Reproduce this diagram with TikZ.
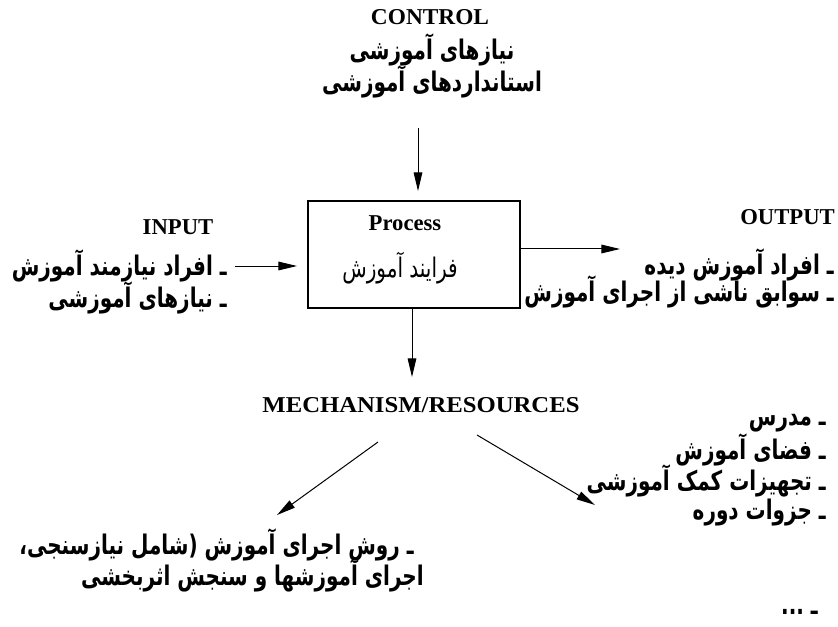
\documentclass[tikz,border=0pt]{standalone}
\usepackage{fontspec}
\usepackage{graphicx}
\setmainfont{Liberation Serif}
\newfontfamily\fa[Script=Arabic]{DejaVu Sans}
\TeXXeTstate=1
\usetikzlibrary{arrows.meta}
\tikzset{
  lat/.style={font=\fontsize{17}{20}\selectfont\bfseries, inner sep=0pt},
  per/.style={font=\fontsize{15}{18}\fa\bfseries, inner sep=0pt},
  perm/.style={font=\fontsize{15}{18}\fa, inner sep=0pt},
  arr/.style={line width=0.75pt, -{Triangle[length=14pt,width=6.5pt]}},
  procbox/.style={draw, line width=1.1pt, minimum width=159pt, minimum height=80pt, inner sep=0pt}
}
\newcommand{\RL}[1]{\scalebox{1}[1.35]{\beginR #1\endR}}
\begin{document}
\begin{tikzpicture}[x=0.75pt,y=-0.75pt]
\useasboundingbox (0,0) rectangle (838,627);
% control
\node[lat] (ctl) at (430,17) {\scalebox{1.03}[1]{CONTROL}};
\node[per] (cn1) at (432,50) {\RL{نیازهای آموزشی}};
\node[per] (cn2) at (432,82) {\RL{استانداردهای آموزشی}};
\coordinate (ctop) at (418,128);
\coordinate (ctip) at (418,191);
\draw[arr] (ctop) -- (ctip);
% process
\node[procbox] (proc) at (414,254.5) {};
\node[lat] (ptxt) at (405,223) {Process};
\node[perm] (pfa) at (400,268) {\RL{فرایند آموزش}};
% input
\node[lat] (inl) at (178,227) {INPUT};
\node[per, anchor=east] (in1) at (227,266) {\RL{ـ افراد نیازمند آموزش}};
\node[per, anchor=east] (in2) at (227,298) {\RL{ـ نیازهای آموزشی}};
\coordinate (ina) at (235,266);
\coordinate (inb) at (297,266);
\draw[arr] (ina) -- (inb);
% output
\node[lat, anchor=east] (outl) at (835,217) {OUTPUT};
\node[per, anchor=east] (out1) at (834,265) {\RL{ـ افراد آموزش دیده}};
\node[per, anchor=east] (out2) at (834,292) {\RL{ـ سوابق ناشی از اجرای آموزش}};
\coordinate (outa) at (520,249);
\coordinate (outb) at (620,249);
\draw[arr] (outa) -- (outb);
% mechanism
\coordinate (ma) at (412,308);
\coordinate (mb) at (412,377);
\draw[arr] (ma) -- (mb);
\node[lat] (mech) at (421,405) {\scalebox{1.09}[1]{MECHANISM/RESOURCES}};
\coordinate (la) at (378,442);
\coordinate (lb) at (277,515);
\draw[arr] (la) -- (lb);
\coordinate (ra) at (477,435);
\coordinate (rb) at (595,505);
\draw[arr] (ra) -- (rb);
\node[per, anchor=east] (l1) at (414,545) {\RL{ـ روش اجرای آموزش (شامل نیازسنجی،}};
\node[per, anchor=east] (l2) at (424,576) {\RL{اجرای آموزشها و سنجش اثربخشی}};
\node[per, anchor=east] (r1) at (826,423) {\RL{ـ مدرس}};
\node[per, anchor=east] (r2) at (826,450) {\RL{ـ فضای آموزش}};
\node[per, anchor=east] (r3) at (826,481) {\RL{ـ تجهیزات کمک آموزشی}};
\node[per, anchor=east] (r4) at (826,513) {\RL{ـ جزوات دوره}};
\node[per, anchor=east] (r5) at (818,612) {\RL{ـ ...}};
\end{tikzpicture}
\end{document}
